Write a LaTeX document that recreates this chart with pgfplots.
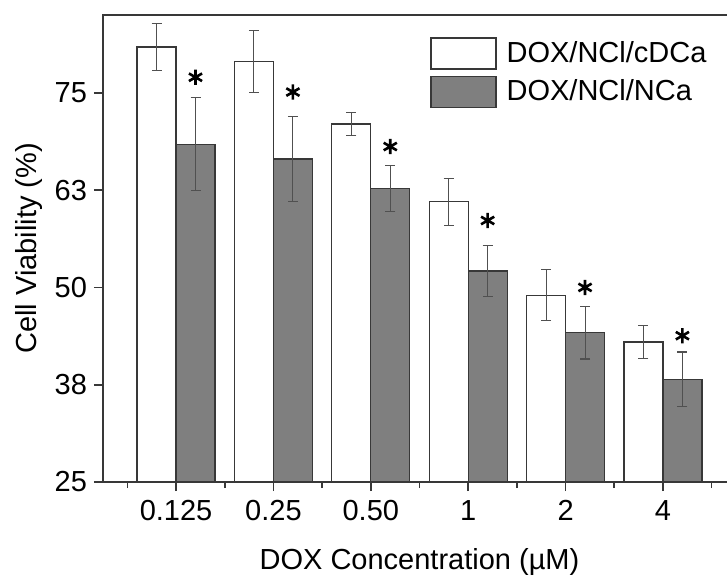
\documentclass[border=0pt]{standalone}
\usepackage{fontspec}
\setmainfont{Liberation Sans}
\usepackage{pgfplots}
\pgfplotsset{compat=1.18}
\definecolor{axcol}{HTML}{383838}
\definecolor{barg}{HTML}{7F7F7F}
\definecolor{errc}{HTML}{505050}
\newcommand{\fnt}{\fontsize{14.5}{17}\selectfont}
\begin{document}
\begin{tikzpicture}
\begin{axis}[
  name=ax,
  scale only axis,
  width=316.5pt, height=233.5pt,
  xmin=-0.75, xmax=5.75, ymin=25, ymax=85,
  axis line style={axcol, line width=0.8pt},
  ybar=0pt, bar width=19.5pt,
  xtick={0,1,2,3,4,5},
  xticklabels={0.125,0.25,0.50,1,2,4},
  minor xtick={-0.5,0.5,1.5,2.5,3.5,4.5,5.5},
  ytick={25,37.5,50,62.5,75},
  yticklabels={25,38,50,63,75},
  tick align=outside,
  xtick pos=bottom, ytick pos=left,
  major tick length=4.5pt, minor tick length=3pt,
  tick style={axcol, line width=0.8pt},
  ticklabel style={font=\fnt},
  xticklabel style={yshift=-1pt},
  /pgf/number format/assume math mode=true,
  xlabel={DOX Concentration (µM)},
  ylabel={Cell Viability (\%)},
  label style={font=\fnt},
  xlabel style={at={(axis description cs:0.5,-0.1884)}, anchor=base},
  ylabel style={at={(axis description cs:-0.1058,0.5)}, anchor=base, rotate=0},
  legend style={at={(axis description cs:0.5166,0.953)}, anchor=north west,
    draw=none, fill=none, inner sep=0pt, row sep=3pt, font=\fnt,
    nodes={inner sep=0pt},
    /tikz/every odd column/.append style={column sep=5pt}},
  legend cell align=left,
  legend image code/.code={\draw[#1] (0pt,-7.75pt) rectangle (32.5pt,7.75pt);},
  error bars/error bar style={errc, line width=0.55pt},
  error bars/error mark options={rotate=90, mark size=2.5pt, errc, line width=0.55pt},
]
\addplot[draw=axcol, line width=0.6pt, fill=white,
  error bars/.cd, y dir=both, y explicit]
  coordinates {
    (0,80.9) +- (0,3.0)
    (1,79.0) +- (0,4.0)
    (2,71.0) +- (0,1.5)
    (3,61.0) +- (0,3.0)
    (4,49.0) +- (0,3.25)
    (5,43.0) +- (0,2.1)
  };
\addlegendentry{DOX/NCl/cDCa}
\addplot[draw=axcol, line width=0.6pt, fill=barg,
  error bars/.cd, y dir=both, y explicit]
  coordinates {
    (0,68.4) +- (0,6.0)
    (1,66.5) +- (0,5.5)
    (2,62.7) +- (0,3.0)
    (3,52.1) +- (0,3.3)
    (4,44.2) +- (0,3.4)
    (5,38.2) +- (0,3.5)
  };
\addlegendentry{DOX/NCl/NCa}
\addplot[only marks, mark=asterisk, mark size=3.8pt, black, line width=1.3pt,
  bar shift=0pt, forget plot]
  coordinates {
    (0.2,77.0) (1.2,75.1) (2.2,68.1) (3.2,58.6) (4.2,50.0) (5.2,43.8)
  };
\end{axis}
\pgfresetboundingbox
\path (ax.south west) ++(-51.5pt,-48pt) rectangle ++(363.5pt,289pt);
\end{tikzpicture}
\end{document}
